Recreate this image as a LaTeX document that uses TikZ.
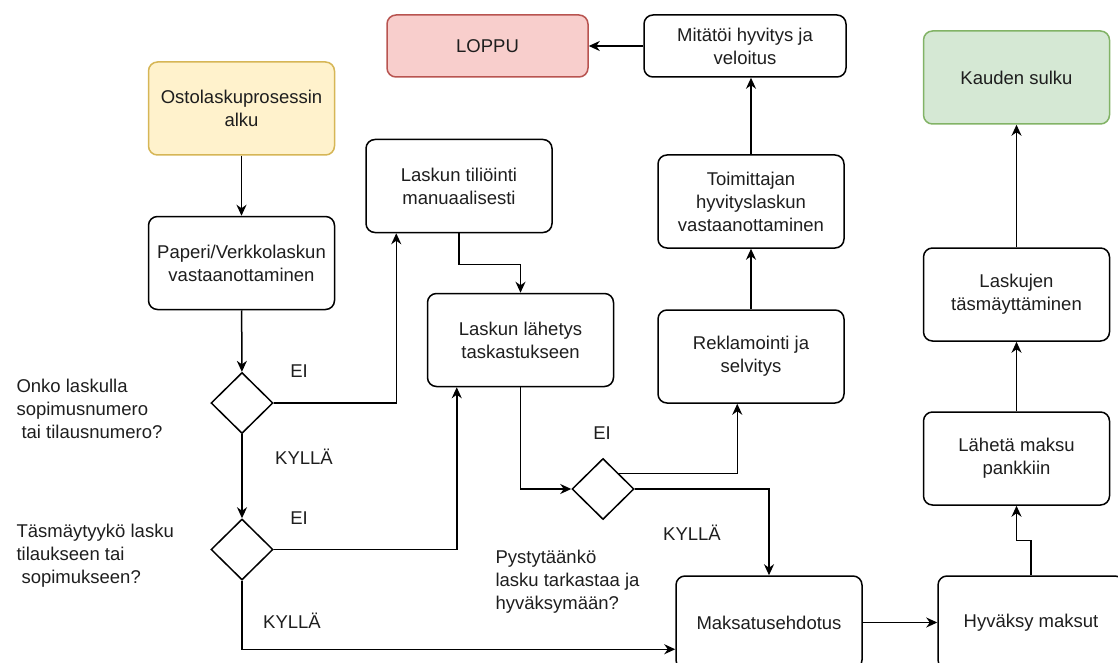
\documentclass[tikz,border=0pt]{standalone}
\usepackage{fontspec}
\setmainfont{Liberation Sans}
\usepackage{xcolor}
\usepackage{tikz}
\usetikzlibrary{arrows.meta, shapes.geometric, positioning, calc}
\definecolor{AlkuFill}  {RGB}{255,242,204}
\definecolor{AlkuLine}  {RGB}{214,182,86}
\definecolor{LoppuFill} {RGB}{248,206,204}
\definecolor{LoppuLine} {RGB}{184,84,80}
\definecolor{SulkuFill} {RGB}{213,232,212}
\definecolor{SulkuLine} {RGB}{130,179,102}
\definecolor{Teksti}    {RGB}{30,30,30}

\begin{document}
\begin{tikzpicture}[x=1pt,y=-1pt,
    vaihe/.style={draw,line width=1.5pt,rounded corners=9pt,fill=white,minimum width=186pt,minimum height=93pt,
      align=center,text=Teksti,font=\fontsize{18.5}{23}\selectfont,inner sep=2pt},
    paatos/.style={draw,line width=1.5pt,diamond,minimum width=62pt,minimum height=61pt,inner sep=0pt},
    kysymys/.style={anchor=west,align=left,text=Teksti,font=\fontsize{18.5}{23}\selectfont},
    vastaus/.style={text=Teksti,font=\fontsize{18.5}{23}\selectfont},
    nuoli/.style={-{Stealth[length=11pt,width=10pt,inset=3.5pt]},line width=1.5pt}]
  \useasboundingbox (0,0) rectangle (1118,663);
  \node[vaihe,fill=AlkuFill,draw=AlkuLine] (alku) at (241.5,108.5) {Ostolaskuprosessin\\alku};
  \node[vaihe] (vastaanotto) at (241.5,263) {Paperi/Verkkolaskun\\vastaanottaminen};
  \node[paatos] (sopimus) at (242,403) {};
  \node[paatos] (tasmays) at (242,549.5) {};
  \node[kysymys] (kys1) at (13,409) {Onko laskulla\\sopimusnumero\\\hspace{5pt}tai tilausnumero?};
  \node[kysymys] (kys2) at (13,556) {Täsmäytyykö lasku\\tilaukseen tai\\\hspace{5pt}sopimukseen?};
  \node[vaihe] (tiliointi) at (459,186) {Laskun tiliöinti\\manuaalisesti};
  \node[vaihe] (lahetys) at (520.5,340) {Laskun lähetys\\taskastukseen};
  \node[paatos] (tarkastus) at (603,489) {};
  \node[kysymys] (kys3) at (492,582) {Pystytäänkö\\lasku tarkastaa ja\\hyväksymään?};
  \node[vaihe] (reklamointi) at (751,356.5) {Reklamointi ja\\selvitys};
  \node[vaihe] (hyvityslasku) at (751,201.5) {Toimittajan\\hyvityslaskun\\vastaanottaminen};
  \node[vaihe,minimum width=202pt,minimum height=62pt] (mitatoi) at (745,46) {Mitätöi hyvitys ja\\veloitus};
  \node[vaihe,minimum width=201pt,minimum height=62pt,fill=LoppuFill,draw=LoppuLine] (loppu) at (487.5,46) {LOPPU};
  \node[vaihe] (maksatus) at (769,622.5) {Maksatusehdotus};
  \node[vaihe] (hyvaksy) at (1031,622.5) {Hyväksy maksut};
  \node[vaihe] (pankki) at (1016.5,458.5) {Lähetä maksu\\pankkiin};
  \node[vaihe] (tasmaytys) at (1016.5,294.5) {Laskujen\\täsmäyttäminen};
  \node[vaihe,fill=SulkuFill,draw=SulkuLine] (sulku) at (1016.5,77.5) {Kauden sulku};
  \node[vastaus] (ei1) at (299,371) {EI};
  \node[vastaus] (kylla1) at (304,457) {KYLLÄ};
  \node[vastaus] (ei2) at (299,518) {EI};
  \node[vastaus] (kylla2) at (292,621) {KYLLÄ};
  \node[vastaus] (ei3) at (602,433) {EI};
  \node[vastaus] (kylla3) at (692,533) {KYLLÄ};
  \draw[nuoli] (alku) -- (vastaanotto);
  \draw[nuoli] (vastaanotto) -- (sopimus);
  \draw[nuoli] (sopimus) -- (tasmays);
  \draw[nuoli] (sopimus.east) -| ([xshift=31pt]tiliointi.south west);
  \draw[nuoli] (tiliointi.south) -- ++(0,31) -| (lahetys.north);
  \draw[nuoli] (tasmays.east) -| ([xshift=30pt]lahetys.south west);
  \draw[nuoli] (lahetys.south) |- (tarkastus.west);
  \draw[nuoli] (tarkastus.north east) -| ([xshift=80pt]reklamointi.south west);
  \draw[nuoli] (tarkastus.east) -| (maksatus.north);
  \draw[nuoli] (reklamointi) -- (hyvityslasku);
  \draw[nuoli] (hyvityslasku.north) -- (hyvityslasku.north |- mitatoi.south);
  \draw[nuoli] (mitatoi) -- (loppu);
  \draw[nuoli] (tasmays.south) |- ([yshift=-74pt]maksatus.north west);
  \draw[nuoli] (maksatus) -- (hyvaksy);
  \draw[nuoli] (hyvaksy.north) -- ++(0,-35) -| (pankki.south);
  \draw[nuoli] (pankki) -- (tasmaytys);
  \draw[nuoli] (tasmaytys) -- (sulku);
\end{tikzpicture}
\end{document}
